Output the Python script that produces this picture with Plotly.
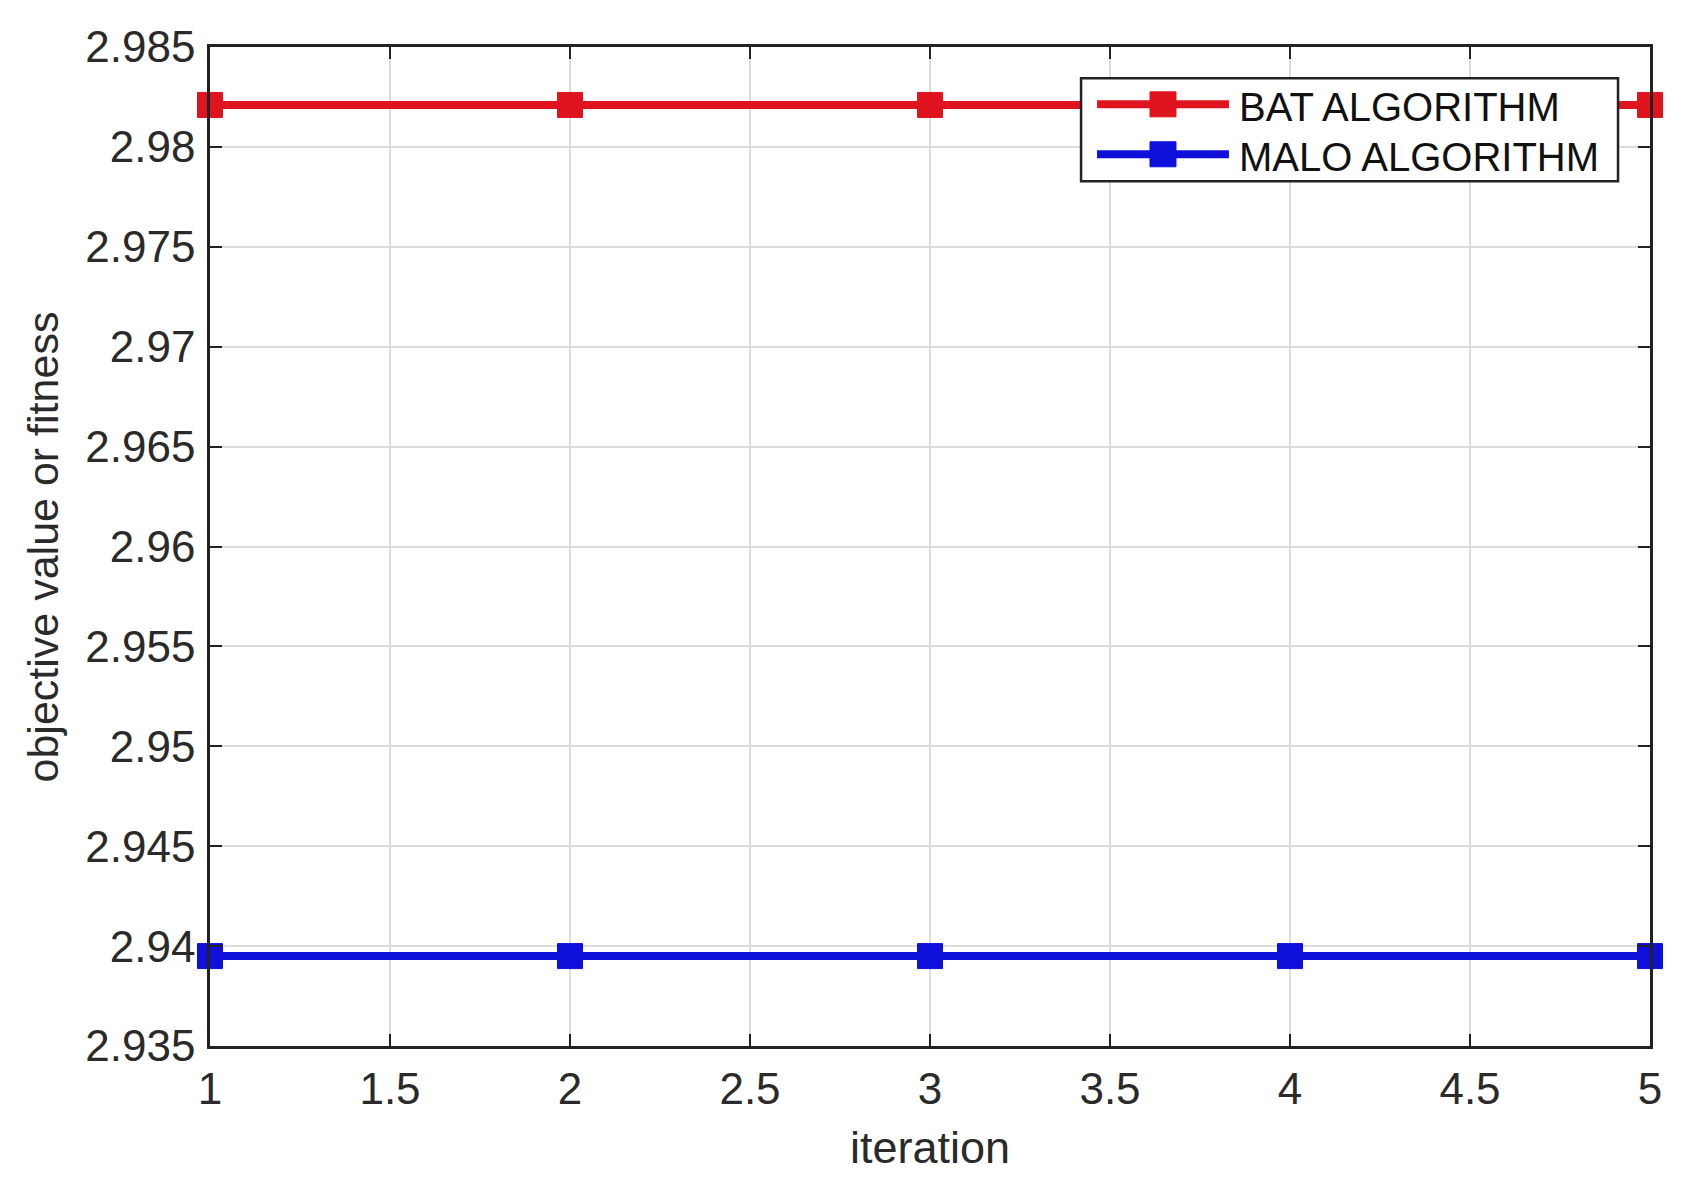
import plotly.graph_objects as go

iterations = [1, 2, 3, 4, 5]
bat_values = [2.9821, 2.9821, 2.9821, 2.9821, 2.9821]
malo_values = [2.9395, 2.9395, 2.9395, 2.9395, 2.9395]
series_names = ["BAT ALGORITHM", "MALO ALGORITHM"]
x_ticks = [1, 1.5, 2, 2.5, 3, 3.5, 4, 4.5, 5]
x_tick_labels = ["1", "1.5", "2", "2.5", "3", "3.5", "4", "4.5", "5"]
y_ticks = [2.935, 2.94, 2.945, 2.95, 2.955, 2.96, 2.965, 2.97, 2.975, 2.98, 2.985]
y_tick_labels = ["2.935", "2.94", "2.945", "2.95", "2.955", "2.96", "2.965", "2.97", "2.975", "2.98", "2.985"]

FONT = "Liberation Sans, Arial, sans-serif"
TXT = "#2a2a2a"
RED = "#e0141e"
BLUE = "#1010dc"
colors = [RED, BLUE]

fig = go.Figure()
for name, vals, col in zip(series_names, [bat_values, malo_values], colors):
    fig.add_trace(go.Scatter(
        x=iterations, y=vals, name=name, mode="lines+markers",
        line=dict(color=col, width=8),
        marker=dict(symbol="square", size=25, color=col, line=dict(color=col, width=1)),
        cliponaxis=False, showlegend=False,
    ))

axis_common = dict(
    showline=True, linecolor="#222222", linewidth=2.5, mirror="ticks",
    ticks="inside", ticklen=12, tickwidth=2, tickcolor="#222222",
    showgrid=True, gridcolor="#dcdcdc", gridwidth=1.5,
    zeroline=False, automargin=False,
    tickfont=dict(family=FONT, size=44, color=TXT),
)

# Manual legend (MATLAB style, long sample lines)
shapes = [dict(type="rect", xref="paper", yref="paper", x0=0.6049, x1=0.9778,
               y0=0.8656, y1=0.9687, fillcolor="white",
               line=dict(color="#222222", width=2.5), layer="above")]
annotations = []
leg_y = [0.9426, 0.8926]
for name, col, yy in zip(series_names, colors, leg_y):
    shapes.append(dict(type="line", xref="paper", yref="paper", x0=0.616, x1=0.7076,
                       y0=yy, y1=yy, line=dict(color=col, width=8), layer="above"))
    shapes.append(dict(type="rect", xref="paper", yref="paper",
                       xsizemode="pixel", ysizemode="pixel", xanchor=0.6618, yanchor=yy,
                       x0=-13, x1=13, y0=-12.5, y1=12.5, fillcolor=col,
                       line=dict(color=col, width=1), layer="above"))
    annotations.append(dict(text=name, xref="paper", yref="paper", x=0.7132, y=yy - 0.003,
                            xanchor="left", yanchor="middle", showarrow=False,
                            font=dict(family=FONT, size=40, color="#111111")))

annotations.append(dict(text="objective value or fitness", xref="paper", yref="paper",
                        x=-0.116, y=0.5, textangle=-90, showarrow=False,
                        xanchor="center", yanchor="middle",
                        font=dict(family=FONT, size=43, color=TXT)))
annotations.append(dict(text="iteration", xref="paper", yref="paper",
                        x=0.5, y=-0.1014, showarrow=False,
                        xanchor="center", yanchor="middle",
                        font=dict(family=FONT, size=45, color=TXT)))

# The page body has an 8px default margin; size/margins compensate for it.
fig.update_layout(
    width=1684, height=1183,
    paper_bgcolor="white", plot_bgcolor="white",
    margin=dict(l=202, r=42, t=39, b=145),
    font=dict(family=FONT, color=TXT),
    xaxis=dict(range=[1, 5], tickvals=x_ticks, ticktext=x_tick_labels,
               ticklabelstandoff=2, **axis_common),
    yaxis=dict(range=[2.935, 2.985], tickvals=y_ticks, ticktext=y_tick_labels,
               ticklabelstandoff=3, **axis_common),
    shapes=shapes,
    annotations=annotations,
    showlegend=False,
)

fig.write_html("out.html")
